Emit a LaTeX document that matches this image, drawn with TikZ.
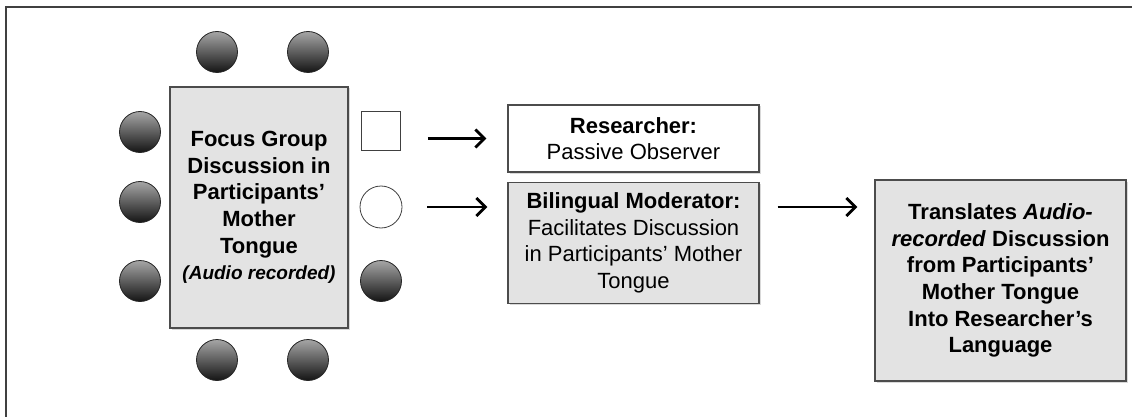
\documentclass[tikz,border=0pt]{standalone}
\usepackage{fontspec}
\setmainfont{Liberation Sans}
\usetikzlibrary{arrows.meta,positioning,shadows}
\tikzset{
  seat/.style={circle, draw=black!85, thick, minimum size=41pt, inner sep=0pt, top color=black!35, bottom color=black!92},
  emptyseat/.style={draw=black!75, thick, fill=white, minimum size=39pt, inner sep=0pt},
  desk/.style={draw=black!70, line width=1.2pt, fill=gray!22, align=center, font=\fontsize{22}{26.6}\selectfont\bfseries, drop shadow={shadow xshift=1.5pt, shadow yshift=-1.5pt, opacity=0.3}},
  rolebox/.style={draw=black!70, line width=1.2pt, fill=white, align=center, minimum width=251pt, font=\fontsize{22}{26.6}\selectfont, drop shadow={shadow xshift=1.5pt, shadow yshift=-1.5pt, opacity=0.3}},
  frame/.style={draw=black!75, line width=1.3pt},
  arrow/.style={-{Straight Barb[length=9pt,width=18pt]}, line width=2.8pt},
}

\begin{document}
\begin{tikzpicture}[x=1pt, y=-1pt]
\useasboundingbox (0,0) rectangle (1132,417);
\draw[frame] (6,417) -- (6,7) -- (1132,7);
% focus group table and participants
\node[desk, minimum width=178pt, minimum height=241pt] (table) at (259,207.5)
  {Focus Group\\Discussion in\\Participants’\\Mother\\Tongue\\{\fontsize{19}{26.6}\selectfont\itshape (Audio recorded)}};
\foreach \nm/\px/\py in {t1/217/52, t2/308/52, l1/140/132, l2/140/202, l3/140/281, b1/217/360, b2/308/360, r1/381/281}
  \node[seat] (seat-\nm) at (\px,\py) {};
\node[emptyseat, rectangle] (res-seat) at (381,130.5) {};
\node[emptyseat, circle, minimum size=42pt] (mod-seat) at (381,207) {};
% roles
\node[rolebox, minimum height=67pt] (res) at (633.5,138.5) {\textbf{Researcher:}\\Passive Observer};
\node[rolebox, fill=gray!22, minimum height=121pt, below=9pt of res] (mod)
  {\textbf{Bilingual Moderator:}\\Facilitates Discussion\\in Participants’ Mother\\Tongue};
\node[rolebox, fill=gray!22, minimum height=201pt, font=\fontsize{22}{26.6}\selectfont\bfseries] (trans) at (1000.5,280.5)
  {Translates \textit{Audio-}\\\textit{recorded} Discussion\\from Participants’\\Mother Tongue\\Into Researcher’s\\Language};
\draw[arrow, shorten <=27pt, shorten >=21pt] (res-seat.east |- res.west) -- (res.west);
\draw[arrow, shorten <=25pt, shorten >=20pt] (mod-seat.east) -- (mod-seat.east -| mod.west);
\draw[arrow, shorten <=18pt, shorten >=17pt] (mod.east |- mod-seat.east) -- (trans.west |- mod-seat.east);
\end{tikzpicture}
\end{document}
